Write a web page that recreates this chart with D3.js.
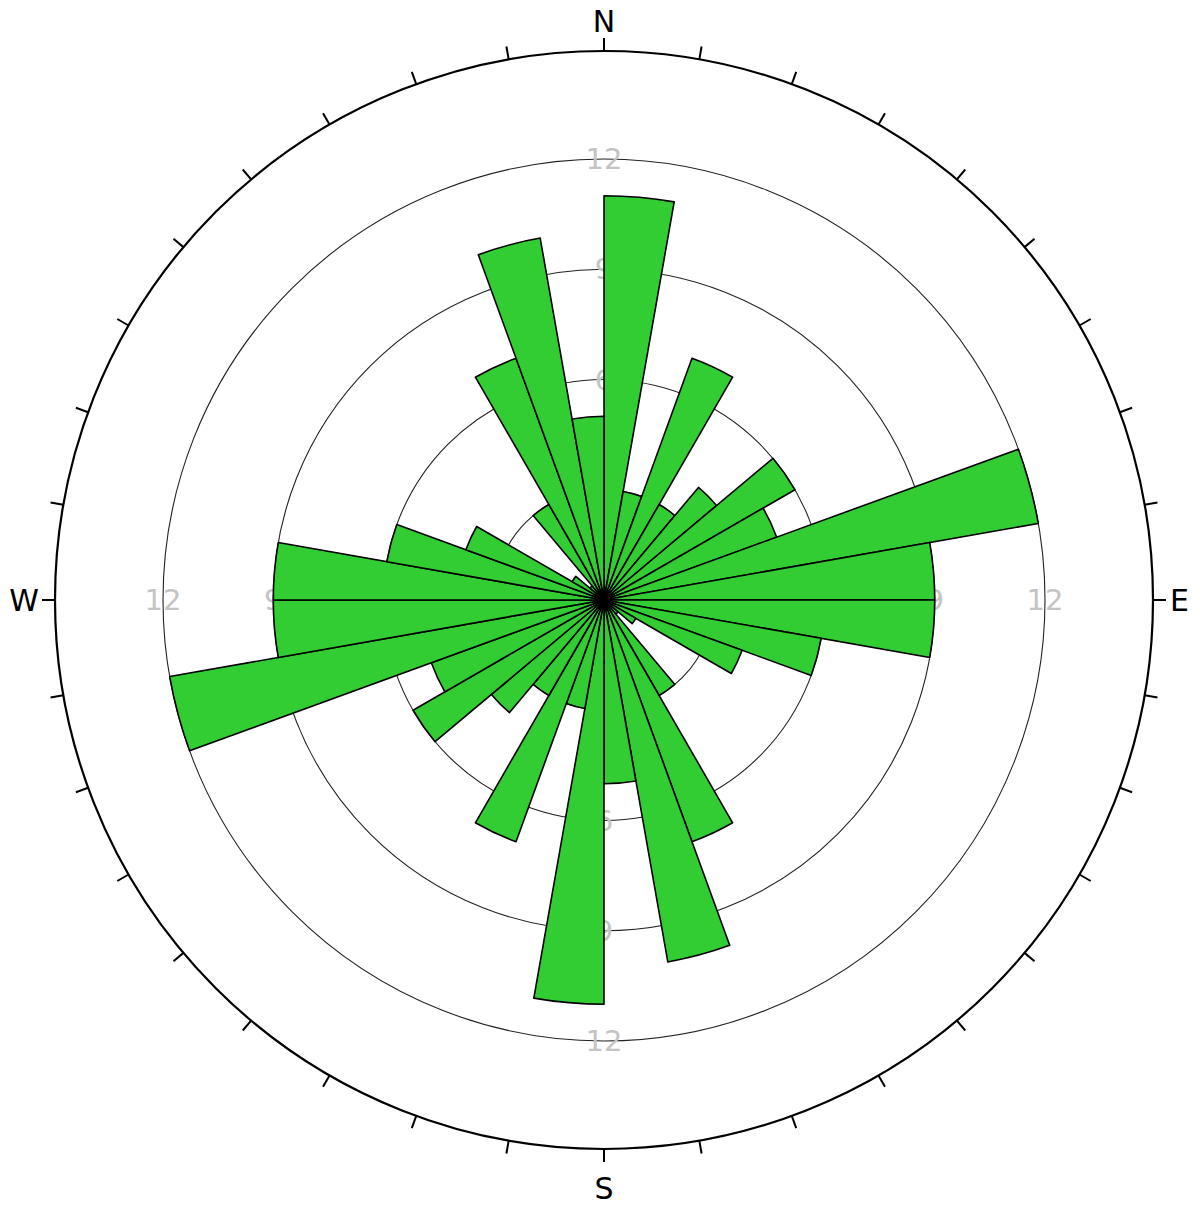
<!DOCTYPE html>
<html>
<head>
<meta charset="utf-8">
<script src="https://cdn.jsdelivr.net/npm/d3@7"></script>
<style>
  body { margin: 0; background: #fff; }
  svg { display: block; font-family: "DejaVu Sans", Verdana, sans-serif; }
</style>
</head>
<body>
<svg class="roseSVG" width="1200" height="1208"></svg>
<script>
// bin start azimuths (deg, clockwise from N) and counts per 10 degree bin
const binStarts = [0, 10, 20, 30, 40, 50, 60, 70, 80, 90, 100, 110, 120, 130, 140, 150, 160, 170,
  180, 190, 200, 210, 220, 230, 240, 250, 260, 270, 280, 290, 300, 310, 320, 330, 340, 350];
const counts = [11, 3, 7, 3, 4, 6, 5, 12, 9, 9, 6, 4, 1, 0.5, 3, 7, 10, 5,
  11, 3, 7, 3, 4, 6, 5, 12, 9, 9, 6, 4, 1, 0.5, 3, 7, 10, 5];
const binWidth = 10;
const ringValues = [3, 6, 9, 12];
const ringLabelDirs = [0, 90, 180, 270];
const tickAngles = [0, 10, 20, 30, 40, 50, 60, 70, 80, 90, 100, 110, 120, 130, 140, 150, 160, 170,
  180, 190, 200, 210, 220, 230, 240, 250, 260, 270, 280, 290, 300, 310, 320, 330, 340, 350];
const cardinals = [
  { name: 'N', deg: 0 }, { name: 'E', deg: 90 }, { name: 'S', deg: 180 }, { name: 'W', deg: 270 }
];

const cx = 604, cy = 600;
const outerR = 549;
const ring12R = 441;
const tickLen = 13;
const barColor = '#32cd32';
const rad = d => d * Math.PI / 180;

const svg = d3.select('.roseSVG');
const g = svg.append('g').attr('transform', `translate(${cx}, ${cy})`);

const scaleR = d3.scaleLinear()
  .domain([0, 12])
  .range([0, ring12R]);

// outer circle + ticks
g.append('circle')
  .attr('r', outerR)
  .attr('fill', 'none')
  .attr('stroke', '#000')
  .attr('stroke-width', 2.2);

g.selectAll('.tick')
  .data(tickAngles)
  .enter()
  .append('line')
  .attr('class', 'tick')
  .attr('x1', d => outerR * Math.sin(rad(d)))
  .attr('y1', d => -outerR * Math.cos(rad(d)))
  .attr('x2', d => (outerR + tickLen) * Math.sin(rad(d)))
  .attr('y2', d => -(outerR + tickLen) * Math.cos(rad(d)))
  .attr('stroke', '#000')
  .attr('stroke-width', 2);

// cardinal letters
const labelGap = outerR + tickLen;
g.selectAll('.cardinal')
  .data(cardinals)
  .enter()
  .append('text')
  .attr('class', 'cardinal')
  .attr('x', d => d.deg === 90 ? labelGap + 4 : d.deg === 270 ? -labelGap - 3 : 0)
  .attr('y', d => d.deg === 0 ? -labelGap - 6 : d.deg === 180 ? labelGap + 37 : 11)
  .attr('text-anchor', d => d.deg === 90 ? 'start' : d.deg === 270 ? 'end' : 'middle')
  .attr('font-size', 30)
  .attr('fill', '#000')
  .text(d => d.name);

// grid rings
g.selectAll('.ring')
  .data(ringValues)
  .enter()
  .append('circle')
  .attr('class', 'ring')
  .attr('r', d => scaleR(d))
  .attr('fill', 'none')
  .attr('stroke', '#222')
  .attr('stroke-width', 1.1);

// ring labels (under the petals)
const ringLabels = [];
ringValues.forEach(v => ringLabelDirs.forEach(deg => ringLabels.push({ v, deg })));
g.selectAll('.ringLabel')
  .data(ringLabels)
  .enter()
  .append('text')
  .attr('class', 'ringLabel')
  .attr('x', d => scaleR(d.v) * Math.sin(rad(d.deg)))
  .attr('y', d => -scaleR(d.v) * Math.cos(rad(d.deg)) + 10)
  .attr('text-anchor', 'middle')
  .attr('font-size', 29)
  .attr('fill', '#c4c4c4')
  .text(d => d.v);

// petals
const arcGen = d3.arc().innerRadius(0);
g.selectAll('.petal')
  .data(counts)
  .enter()
  .append('path')
  .attr('class', 'petal')
  .attr('d', (d, i) => arcGen({
    outerRadius: scaleR(d),
    startAngle: rad(binStarts[i]),
    endAngle: rad(binStarts[i] + binWidth)
  }))
  .attr('fill', barColor)
  .attr('stroke', '#000')
  .attr('stroke-width', 1.6)
  .attr('stroke-linejoin', 'round');
</script>
</body>
</html>
